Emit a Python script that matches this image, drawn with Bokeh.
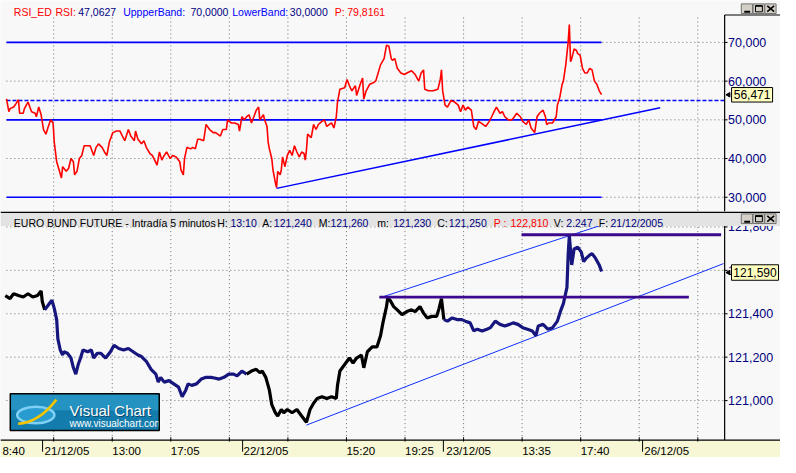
import math
from bokeh.plotting import figure
from bokeh.layouts import column
from bokeh.models import Range1d
from bokeh.core.properties import value
from bokeh.embed import file_html
from bokeh.resources import INLINE

# ---------------- data (bar index = 5-minute bars from the left edge) ----------------
rsi_t = [5, 7, 8, 11, 13, 15, 16, 19, 20, 23, 26, 29, 30, 32, 34, 36, 38, 40, 42, 44, 45, 47, 49, 51, 52,
         55, 57, 59, 61, 62, 64, 66, 68, 70, 72, 75, 78, 80, 82, 85, 87, 89, 91, 94, 97, 100, 102, 104,
         107, 109, 112, 113, 115, 118, 120, 122, 125, 127, 129, 131, 133, 135, 137, 139, 142, 144, 147,
         150, 151, 153, 154, 156, 159, 161, 163, 165, 167, 170, 172, 175, 178, 180, 184, 186, 189, 190,
         193, 196, 199, 200, 202, 204, 206, 208, 210, 212, 214, 216, 217, 220, 221, 223, 224, 225, 227,
         228, 230, 231, 232, 234, 235, 236, 238, 240, 242, 244, 246, 248, 250, 252, 254, 255, 256, 257,
         260, 262, 264, 266, 269, 271, 273, 277, 279, 281, 282, 284, 288, 290, 292, 294, 297, 298, 301,
         303, 304, 306, 309, 312, 314, 316, 318, 321, 323, 325, 327, 328, 330, 332, 335, 338, 340, 344,
         347, 350, 352, 354, 355, 358, 362, 366, 368, 369, 370, 372, 374, 377, 380, 383, 385, 387, 389,
         391, 394, 396, 398, 400, 402, 406, 409, 411, 413, 415, 418, 420, 422, 425, 428, 430, 432, 435,
         437, 440, 442, 444, 447, 449, 451, 454, 456, 457, 459, 462, 465, 466, 468, 470, 471, 473, 475,
         476, 477, 478, 480, 482, 483, 485, 487, 489, 491, 493, 495, 497, 499, 501, 503]
rsi_v = [55.4, 52.1, 52.9, 53.3, 54.2, 55.2, 51.7, 51.7, 52.9, 54.6, 52.1, 51.7, 50.8, 53.3, 51.3, 47.5,
         46.3, 48.3, 50.0, 49.2, 44.2, 39.2, 37.1, 35.0, 37.9, 36.7, 37.5, 40.0, 39.2, 35.8, 36.7, 40.0,
         40.8, 43.3, 43.3, 43.3, 40.8, 42.9, 43.8, 42.9, 41.7, 40.8, 44.2, 46.7, 47.1, 47.1, 45.8, 44.6,
         47.5, 45.8, 44.6, 47.1, 45.0, 43.8, 44.6, 42.9, 41.3, 40.8, 39.6, 38.3, 41.7, 39.6, 40.8, 41.7,
         40.0, 40.8, 40.4, 39.2, 37.1, 35.8, 40.0, 42.9, 42.5, 42.9, 42.5, 45.0, 45.0, 44.6, 48.8, 47.5,
         46.7, 46.7, 45.8, 47.5, 47.5, 50.0, 49.2, 49.2, 48.8, 47.1, 50.8, 50.0, 50.8, 51.3, 49.2, 50.8,
         52.5, 53.3, 50.0, 51.3, 50.0, 48.3, 44.2, 42.5, 40.0, 37.1, 33.8, 32.5, 36.7, 35.8, 37.1, 40.4,
         37.9, 40.8, 42.1, 40.8, 43.3, 41.7, 40.4, 41.7, 41.3, 39.6, 42.1, 46.3, 45.4, 48.8, 47.5, 48.8,
         49.6, 50.0, 48.3, 49.2, 47.9, 50.8, 54.6, 57.9, 58.3, 60.4, 58.8, 57.5, 58.8, 56.3, 59.2, 60.8,
         55.4, 57.5, 59.2, 59.6, 60.0, 62.1, 64.2, 65.8, 69.3, 69.0, 65.8, 65.4, 65.8, 63.3, 62.1, 61.7,
         62.1, 62.7, 61.7, 60.0, 62.1, 62.9, 57.9, 57.5, 57.5, 57.9, 60.4, 62.9, 57.5, 53.8, 53.3, 55.0,
         54.6, 53.8, 52.1, 53.8, 52.5, 53.3, 52.5, 48.3, 47.5, 49.6, 49.2, 48.3, 49.6, 50.8, 52.1, 53.3,
         51.7, 52.1, 50.8, 50.0, 50.0, 50.8, 51.7, 50.8, 49.6, 48.8, 50.0, 47.9, 46.7, 50.8, 51.7, 52.5,
         50.8, 48.8, 49.2, 49.2, 50.8, 53.8, 55.8, 59.2, 60.0, 64.2, 70.0, 74.6, 65.0, 65.8, 68.3, 67.9,
         67.1, 66.7, 63.3, 62.1, 62.1, 63.3, 62.9, 60.0, 59.2, 57.5, 56.5]

price_t = [4, 8, 11, 15, 19, 23, 27, 31, 34, 35, 37, 40, 43, 45, 47, 48, 50, 52, 53, 56, 59, 61, 63, 65,
           67, 69, 73, 76, 78, 81, 84, 88, 92, 95, 99, 103, 107, 111, 115, 118, 122, 126, 130, 132, 134,
           137, 141, 145, 149, 152, 155, 157, 160, 164, 168, 172, 176, 179, 183, 187, 191, 195, 198, 202,
           206, 210, 214, 217, 219, 222, 225, 227, 230, 232, 235, 237, 240, 244, 248, 252, 256, 259, 262,
           265, 269, 273, 277, 281, 282, 284, 288, 292, 295, 298, 302, 304, 307, 311, 315, 318, 320, 323,
           324, 326, 329, 332, 336, 340, 344, 347, 351, 354, 357, 361, 365, 367, 369, 371, 374, 378, 382,
           386, 389, 393, 396, 399, 403, 407, 410, 414, 418, 422, 426, 429, 433, 437, 441, 445, 448, 450,
           454, 458, 462, 466, 469, 471, 474, 475, 476, 478, 480, 483, 486, 488, 490, 493, 495, 498, 501,
           503]
price_v = [121484, 121470, 121492, 121484, 121477, 121492, 121477, 121484, 121505, 121455, 121418, 121440,
           121462, 121425, 121373, 121284, 121233, 121210, 121225, 121218, 121196, 121151, 121122, 121166,
           121196, 121233, 121225, 121233, 121196, 121218, 121218, 121196, 121225, 121255, 121240, 121233,
           121240, 121225, 121210, 121203, 121181, 121144, 121122, 121085, 121107, 121085, 121092, 121077,
           121062, 121018, 121048, 121077, 121070, 121077, 121099, 121107, 121107, 121104, 121099, 121107,
           121122, 121122, 121114, 121136, 121122, 121136, 121144, 121129, 121136, 121107, 121048, 120981,
           120944, 120929, 120959, 120944, 120959, 120944, 120959, 120929, 120900, 120959, 120988, 121010,
           121018, 121010, 121018, 121010, 121070, 121136, 121166, 121196, 121173, 121196, 121210, 121151,
           121225, 121247, 121247, 121299, 121358, 121433, 121470, 121462, 121433, 121418, 121396, 121410,
           121418, 121410, 121433, 121403, 121381, 121388, 121388, 121425, 121470, 121373, 121366, 121381,
           121373, 121373, 121366, 121358, 121321, 121329, 121321, 121329, 121336, 121366, 121351, 121344,
           121351, 121358, 121351, 121336, 121329, 121321, 121299, 121344, 121351, 121329, 121336, 121366,
           121418, 121447, 121521, 121670, 121760, 121625, 121699, 121707, 121684, 121640, 121655, 121670,
           121677, 121655, 121625, 121595]

day_start_t = [35.2, 202.6, 370.6, 537.3]
grid_t = [44.5, 93.5, 142.5, 191.5, 240.5, 289.5, 338.5, 387.5, 436.5, 485.5, 534.5, 583.5]
xlabel_t = [1.6, 36.9, 93.5, 142.5, 203.4, 289.5, 338.5, 373.0, 436.5, 485.5, 538.7]
xlabel_text = ["8:40", "21/12/05", "13:00", "17:05", "22/12/05", "15:20", "19:25", "23/12/05",
               "13:35", "17:40", "26/12/05"]

rsi_bands = [70, 50, 30]
rsi_ref = 55
rsi_ticks = [70, 60, 50, 40, 30]
rsi_tick_labels = ["70,000", "60,000", "50,000", "40,000", "30,000"]
rsi_last = 56.471
rsi_trend_t = [231, 552]
rsi_trend_v = [32.3, 53.1]

price_ticks = [121800, 121600, 121400, 121200, 121000]
price_tick_labels = ["121,800", "121,600", "121,400", "121,200", "121,000"]
price_last = 121590
chan_up_t = [321, 505]
chan_up_v = [121480, 121812]
chan_lo_t = [256, 605]
chan_lo_v = [120887, 121631]
level_hi_t = [436, 603]
level_hi_v = 121764
level_lo_t = [317, 576]
level_lo_v = 121477

top_header_text = ["RSI_ED", "RSI:", "47,0627", "UppperBand:", "70,0000", "LowerBand:", "30,0000",
                   "P:", "79,8161"]
bot_header_text = ["EURO BUND FUTURE - Intradía 5 minutos", "H:", "13:10", "A:", "121,240", "M:",
                   "121,260", "m:", "121,230", "C:", "121,250", "P :", "122,810", "V:", "2.247",
                   "F:", "21/12/2005"]

# ---------------- layout helpers (reference-pixel layout -> data space) ----------------
REF_W = 796
W, H = 780, 457
H_TOP = 211
H_BOT = H - H_TOP
T_MAX = 652.7


def X(px):
    # reference pixel column -> bar position (scaled to the page)
    return px * T_MAX / REF_W


def XS(px):
    # unscaled screen pixel column -> bar position (used for text runs)
    return px * T_MAX / W


def YT(py):
    return 70 - (py - 43.3) / 4.0


def YB(py):
    return 121400 + (324 - py) / 0.225


FONT = value("Liberation Sans")
BG = "#f8f8f8"
NAVY = "#000080"
RED = "#ff0000"
BLUE = "#0000ff"
BLACK = "#000000"
GRID = "#6e6e6e"

top_header_x = [13.3, 55, 77.7, 122.7, 190, 231.7, 289.3, 334.3, 346.7]
top_header_c = [RED, RED, NAVY, BLUE, NAVY, BLUE, NAVY, RED, RED]
bot_header_x = [13.3, 216.7, 230, 261.7, 273.3, 318.3, 330, 376.7, 392.7, 436.7, 448.3, 493.3, 510,
                553.3, 565.7, 598.3, 610]
bot_header_c = [BLACK, BLACK, NAVY, BLACK, NAVY, BLACK, NAVY, BLACK, NAVY, BLACK, NAVY, RED, RED,
                BLACK, NAVY, BLACK, NAVY]


def make_fig(h, y0, y1):
    p = figure(width=W, height=h, x_range=Range1d(0, T_MAX), y_range=Range1d(y0, y1),
               output_backend="svg", toolbar_location=None,
               x_axis_location=None, y_axis_location=None, min_border=0)
    p.grid.visible = False
    p.outline_line_color = None
    p.background_fill_color = BG
    p.border_fill_color = BG
    return p


def buttons(p, Y, ytop, ybot):
    lefts = [756, 768, 780]
    p.quad(left=[X(a) for a in lefts], right=[X(a + 11.5) for a in lefts],
           top=[Y(ytop)] * 3, bottom=[Y(ybot)] * 3,
           fill_color="#d4d0c8", line_color="#707070", line_width=1)
    p.segment(x0=[X(759)], y0=[Y(ybot - 2)], x1=[X(765)], y1=[Y(ybot - 2)],
              line_color=BLACK, line_width=2)
    p.quad(left=[X(770.5)], right=[X(777.5)], top=[Y(ytop + 1.8)], bottom=[Y(ybot - 1.8)],
           fill_color=None, line_color=BLACK, line_width=1)
    p.segment(x0=[X(770.5)], y0=[Y(ytop + 2.3)], x1=[X(777.5)], y1=[Y(ytop + 2.3)],
              line_color=BLACK, line_width=1.5)
    p.segment(x0=[X(782.5), X(782.5)], y0=[Y(ytop + 2), Y(ybot - 2)],
              x1=[X(789.5), X(789.5)], y1=[Y(ybot - 2), Y(ytop + 2)],
              line_color=BLACK, line_width=1.6)


# ================= top panel: RSI =================
top = make_fig(H_TOP, YT(218), YT(0))

n = len(grid_t)
top.segment(x0=grid_t, y0=[YT(217)] * n, x1=grid_t, y1=[YT(15)] * n,
            line_color=GRID, line_dash="1 3", line_width=1)
top.segment(x0=[X(6)] * len(rsi_ticks), y0=rsi_ticks, x1=[X(739)] * len(rsi_ticks), y1=rsi_ticks,
            line_color=GRID, line_dash="1 3", line_width=1)
top.segment(x0=[rsi_t[0]] * 3, y0=rsi_bands, x1=[rsi_t[-1]] * 3, y1=rsi_bands,
            line_color=BLUE, line_width=1.7)
top.segment(x0=[rsi_t[0]], y0=[rsi_ref], x1=[X(739)], y1=[rsi_ref],
            line_color=BLUE, line_width=1.5, line_dash="4 2")
top.line(rsi_t, rsi_v, line_color=RED, line_width=1.6)
top.line(rsi_trend_t, rsi_trend_v, line_color=BLUE, line_width=1.5)

# right axis
top.segment(x0=[X(739)], y0=[YT(218)], x1=[X(739)], y1=[YT(15)], line_color=BLACK, line_width=1.2)
top.segment(x0=[X(739)], y0=[YT(15)], x1=[X(796)], y1=[YT(15)], line_color=BLACK, line_width=1.2)
top.segment(x0=[X(739)] * 5, y0=rsi_ticks, x1=[X(742)] * 5, y1=rsi_ticks, line_color=BLACK, line_width=1)
top.text(x=[X(742.5)] * 5, y=rsi_ticks, text=rsi_tick_labels, text_font=FONT, text_font_size="12.5px",
         text_color=NAVY, text_baseline="middle", text_align="left")
top.rect(x=[X(767)], y=[rsi_last], width=41, height=14.5, width_units="screen", height_units="screen",
         fill_color="#ffffc0", line_color=BLACK, line_width=1)
top.text(x=[X(767)], y=[rsi_last], text=["56,471"], text_font=FONT, text_font_size="12px",
         text_color=BLACK, text_baseline="middle", text_align="center")
top.scatter(x=[X(743)], y=[rsi_last], marker="triangle", angle=math.pi / 2, size=4.5,
            fill_color=BLACK, line_color=BLACK)

# header
top.text(x=[XS(a) for a in top_header_x], y=[YT(11.5)] * len(top_header_x), text=top_header_text,
         text_font=FONT, text_font_size="10.5px", text_color=top_header_c,
         text_baseline="alphabetic", text_align="left")
buttons(top, YT, 3.5, 13.5)

# ================= bottom panel: price =================
bot = make_fig(H_BOT, YB(473), YB(218))

bot.segment(x0=grid_t, y0=[YB(455)] * n, x1=grid_t, y1=[YB(233)] * n,
            line_color=GRID, line_dash="1 3", line_width=1)
m = len(price_ticks)
bot.segment(x0=[X(6)] * m, y0=price_ticks, x1=[X(739)] * m, y1=price_ticks,
            line_color=GRID, line_dash="1 3", line_width=1)

# logo
bot.quad(left=[X(10)], right=[X(162)], top=[YB(407)], bottom=[YB(445)],
         fill_color="#137cac", line_color=None)
bot.quad(left=[X(10)], right=[X(162)], top=[YB(407)], bottom=[YB(424)],
         fill_color="#2593c2", line_color=None)
bot.ellipse(x=[X(36)], y=[YB(429)], width=X(38), height=17 / 0.225,
            fill_color="#2ea3d8", fill_alpha=0.8, line_color="#7fd0f4", line_width=2.5)
bot.bezier(x0=[X(18)], y0=[YB(438)], x1=[X(57)], y1=[YB(413)], cx0=[X(36)], cy0=[YB(437)],
           cx1=[X(48)], cy1=[YB(425)], line_color="#f5c400", line_width=2.5)
bot.text(x=[X(71.5)], y=[YB(425.5)], text=["Visual Chart"], text_font=FONT, text_font_size="15px",
         text_color="#0b4a6e", text_baseline="alphabetic", text_align="left")
bot.text(x=[X(70.5)], y=[YB(424.5)], text=["Visual Chart"], text_font=FONT, text_font_size="15px",
         text_color="#ffffff", text_baseline="alphabetic", text_align="left")
bot.text(x=[X(70.5)], y=[YB(438)], text=["www.visualchart.com"], text_font=FONT,
         text_font_size="10px", text_color="#ffffff", text_baseline="alphabetic", text_align="left")
bot.quad(left=[X(10)], right=[X(162)], top=[YB(407)], bottom=[YB(445)],
         fill_color=None, line_color=BLACK, line_width=1.5)

# channel lines
bot.line(chan_up_t, chan_up_v, line_color="#1030ff", line_width=1)
bot.line(chan_lo_t, chan_lo_v, line_color="#1030ff", line_width=1)

# price, coloured by session
day_colors = [BLACK, "#16167e", BLACK, "#16167e", BLACK]
edges = [-1.0] + day_start_t + [1e9]
for k in range(len(edges) - 1):
    idx = [i for i, t in enumerate(price_t) if edges[k] <= t < edges[k + 1]]
    if not idx:
        continue
    if idx[-1] + 1 < len(price_t):
        idx.append(idx[-1] + 1)
    bot.line([price_t[i] for i in idx], [price_v[i] for i in idx],
             line_color=day_colors[k], line_width=3.2)

# horizontal levels
bot.segment(x0=[level_hi_t[0], level_lo_t[0]], y0=[level_hi_v, level_lo_v],
            x1=[level_hi_t[1], level_lo_t[1]], y1=[level_hi_v, level_lo_v],
            line_color="#3c0a8c", line_width=2.8)

# right axis
bot.segment(x0=[X(739)], y0=[YB(455)], x1=[X(739)], y1=[YB(218)], line_color=BLACK, line_width=1.2)
bot.segment(x0=[X(739)] * m, y0=price_ticks, x1=[X(742)] * m, y1=price_ticks,
            line_color=BLACK, line_width=1)
bot.text(x=[X(742.5)] * m, y=price_ticks, text=price_tick_labels, text_font=FONT,
         text_font_size="12.5px", text_color=NAVY, text_baseline="middle", text_align="left")
bot.rect(x=[X(770)], y=[price_last], width=47, height=15.5, width_units="screen",
         height_units="screen", fill_color="#ffffc0", line_color=BLACK, line_width=1)
bot.text(x=[X(770)], y=[price_last], text=["121,590"], text_font=FONT, text_font_size="12px",
         text_color=BLACK, text_baseline="middle", text_align="center")
bot.scatter(x=[X(743)], y=[price_last], marker="triangle", angle=math.pi / 2, size=4.5,
            fill_color=BLACK, line_color=BLACK)

# header strip
bot.quad(left=[0], right=[T_MAX], top=[YB(218)], bottom=[YB(233)], fill_color="#e3e3e3", line_color=None)
bot.segment(x0=[0], y0=[YB(218.8)], x1=[T_MAX], y1=[YB(218.8)], line_color=BLACK, line_width=1.6)
bot.text(x=[XS(a) for a in bot_header_x], y=[YB(229.5)] * len(bot_header_x), text=bot_header_text,
         text_font=FONT, text_font_size="10.5px", text_color=bot_header_c,
         text_baseline="alphabetic", text_align="left")
buttons(bot, YB, 220.5, 230.5)

# time axis strip
bot.quad(left=[0], right=[T_MAX], top=[YB(455)], bottom=[YB(473)], fill_color="#f7f7d6", line_color=None)
bot.segment(x0=[0], y0=[YB(455)], x1=[T_MAX], y1=[YB(455)], line_color=BLACK, line_width=1.2)
bot.segment(x0=grid_t, y0=[YB(452)] * n, x1=grid_t, y1=[YB(456.5)] * n, line_color=BLACK, line_width=1)
d = len(day_start_t)
bot.segment(x0=day_start_t, y0=[YB(455)] * d, x1=day_start_t, y1=[YB(467)] * d,
            line_color=BLACK, line_width=1)
bot.text(x=xlabel_t, y=[YB(466.5)] * len(xlabel_t), text=xlabel_text, text_font=FONT,
         text_font_size="11.5px", text_color=BLACK, text_baseline="alphabetic", text_align="left")

layout = column(top, bot, spacing=0)
open("out.html", "w").write(file_html(layout, INLINE))
